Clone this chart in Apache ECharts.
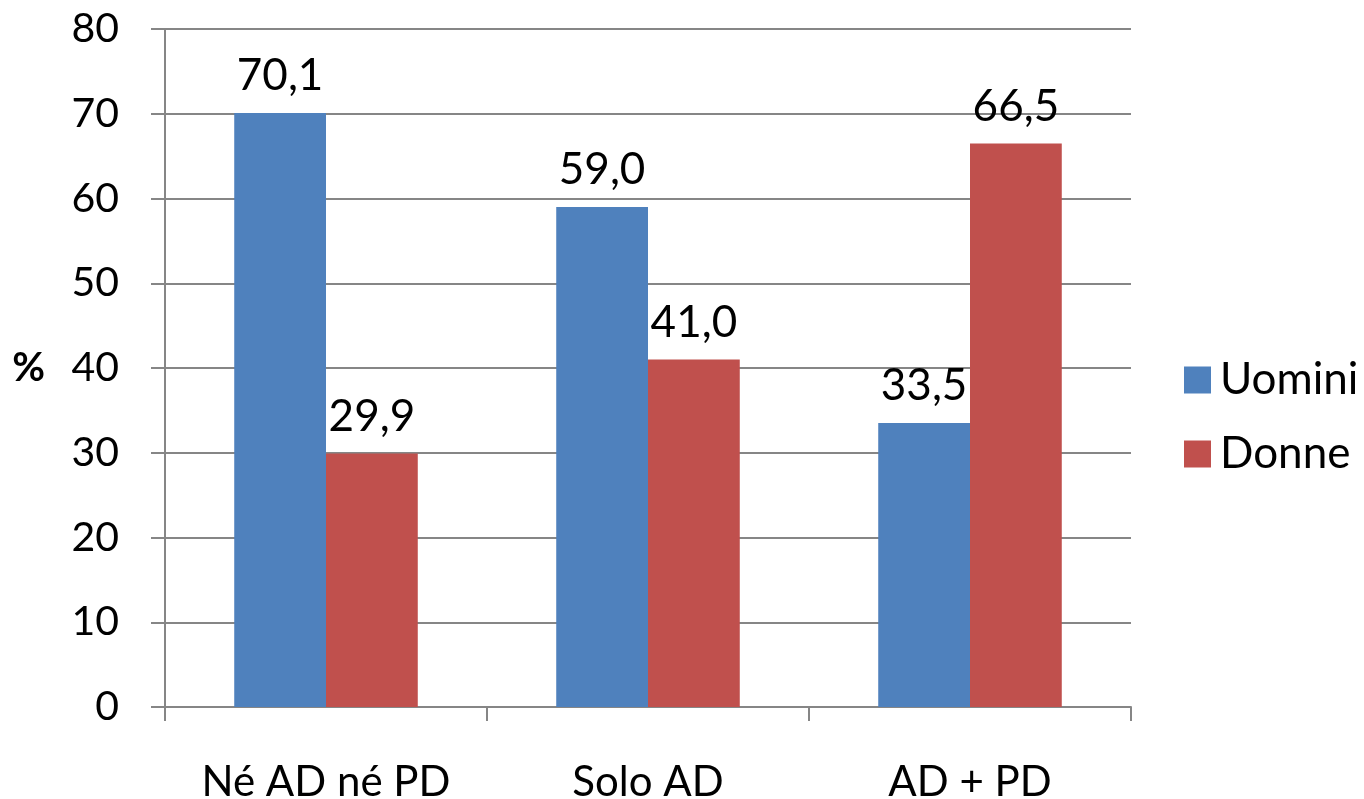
<!DOCTYPE html>
<html>
<head>
<meta charset="utf-8">
<script src="https://cdn.jsdelivr.net/npm/echarts@6/dist/echarts.min.js"></script>
<style>
  html, body { margin: 0; padding: 0; background: #fff; }
  #chart { width: 1364px; height: 799px; }
</style>
</head>
<body>
<div id="chart"></div>
<script>
// Categories and series values (percentages)
const categories = ['Né AD né PD', 'Solo AD', 'AD + PD'];
const uomini = [70.1, 59.0, 33.5];
const donne = [29.9, 41.0, 66.5];
const yTicks = { min: 0, max: 80, interval: 10 };

const FONT = 'Lato, "Open Sans", sans-serif';
const fmt = p => p.value.toFixed(1).replace('.', ',');

const chart = echarts.init(document.getElementById('chart'));
chart.setOption({
  animation: false,
  textStyle: { fontFamily: FONT },
  grid: { left: 165, right: 233, top: 29, bottom: 92, containLabel: false, outerBoundsMode: 'none' },
  legend: {
    orient: 'vertical',
    left: 1179,
    top: 353,
    itemWidth: 27,
    itemHeight: 27,
    itemGap: 30,
    icon: 'rect',
    textStyle: { fontSize: 44, color: '#000', fontFamily: FONT, padding: [0, 0, 0, 4] },
    data: ['Uomini', 'Donne']
  },
  xAxis: {
    type: 'category',
    data: categories,
    axisLine: { lineStyle: { color: '#868686', width: 2 } },
    axisTick: { show: true, length: 14, lineStyle: { color: '#868686', width: 2 } },
    axisLabel: { interval: 0, hideOverlap: false, fontSize: 42, color: '#000', margin: 54, fontFamily: FONT }
  },
  yAxis: {
    type: 'value',
    min: yTicks.min,
    max: yTicks.max,
    interval: yTicks.interval,
    name: '%',
    nameLocation: 'middle',
    nameRotate: 0,
    nameGap: 120,
    nameTextStyle: { fontSize: 40, fontWeight: 'bold', color: '#000', fontFamily: FONT },
    axisLine: { show: true, lineStyle: { color: '#868686', width: 2 } },
    axisTick: { show: true, length: 14, lineStyle: { color: '#868686', width: 2 } },
    splitLine: { lineStyle: { color: '#868686', width: 2 } },
    axisLabel: { fontSize: 41, color: '#000', margin: 46, fontFamily: FONT }
  },
  series: [
    {
      name: 'Uomini',
      type: 'bar',
      data: uomini,
      barGap: '0%',
      barCategoryGap: '43%',
      itemStyle: { color: '#4F81BD' },
      label: { show: true, position: 'top', distance: 15, fontSize: 44, color: '#000', formatter: fmt, fontFamily: FONT }
    },
    {
      name: 'Donne',
      type: 'bar',
      data: donne,
      barGap: '0%',
      barCategoryGap: '43%',
      itemStyle: { color: '#C0504D' },
      label: { show: true, position: 'top', distance: 15, fontSize: 44, color: '#000', formatter: fmt, fontFamily: FONT }
    }
  ]
});
</script>
</body>
</html>
